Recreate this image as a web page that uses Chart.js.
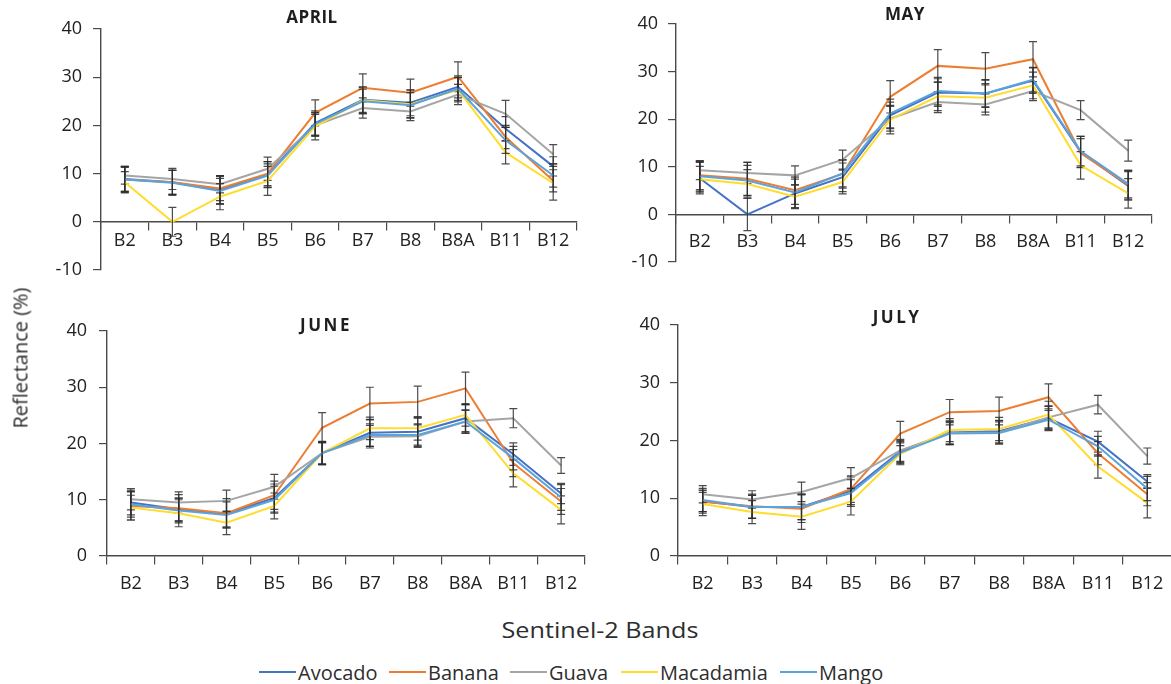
<!DOCTYPE html>
<html>
<head>
<meta charset="utf-8">
<script src="https://cdn.jsdelivr.net/npm/chart.js@4.4.1/dist/chart.umd.min.js"></script>
<style>
    html, body { margin: 0; padding: 0; background: #fff; overflow: hidden; }
    body { width: 1171px; height: 684px; position: relative; font-family: 'Open Sans', sans-serif; color: #333; }
    canvas { position: absolute; }
    .txt { position: absolute; white-space: nowrap; color: #2e2e2e; }
    .legend-line { position: absolute; height: 2px; }
</style>
</head>
<body>

<canvas id="chartApril" style="left:0;top:0" width="590" height="300"></canvas>
<canvas id="chartMay" style="left:590px;top:0" width="590" height="300"></canvas>
<canvas id="chartJune" style="left:0;top:300px" width="590" height="300"></canvas>
<canvas id="chartJuly" style="left:590px;top:300px" width="590" height="300"></canvas>

<div class="txt" id="yTitle" style="font-size:20px;left:20px;top:358px;transform:translate(-50%,-50%) rotate(-90deg);">Reflectance (%)</div>
<div class="txt" style="font-size:21px;left:600px;top:630px;transform:translate(-50%,-50%) scaleX(1.2);">Sentinel-2 Bands</div>
<div id="legend"></div>

<script>
/* === DATA === */
const bands = ['B2', 'B3', 'B4', 'B5', 'B6', 'B7', 'B8', 'B8A', 'B11', 'B12'];
const crops = ['Avocado', 'Banana', 'Guava', 'Macadamia', 'Mango'];
const cropColors = ['#4472C4', '#ED7D31', '#A5A5A5', '#FFDC2E', '#5BA3DC'];

// rows follow crops order
const aprilMeans = [
    [8.9, 8.2, 6.6, 9.8, 20.5, 25.3, 24.7, 28.0, 19.3, 11.5],
    [8.8, 8.2, 6.9, 10.0, 22.6, 27.8, 26.8, 30.1, 17.6, 8.5],
    [9.6, 8.9, 7.8, 11.0, 20.0, 23.6, 22.9, 26.4, 22.4, 14.0],
    [8.2, 0.0, 5.2, 8.5, 19.8, 25.2, 24.4, 27.4, 14.4, 8.0],
    [8.8, 8.1, 6.4, 9.6, 20.3, 25.0, 24.2, 27.6, 16.9, 9.6]
];
const aprilErrors = [
    [2.6, 2.5, 3.0, 2.7, 2.5, 2.6, 2.7, 2.3, 2.5, 2.0],
    [2.7, 2.5, 2.5, 2.5, 2.7, 2.9, 2.8, 3.1, 2.4, 2.3],
    [1.8, 2.2, 1.8, 2.4, 2.3, 2.1, 1.9, 2.1, 2.8, 2.0],
    [2.2, 3.0, 2.7, 3.0, 2.8, 2.8, 2.9, 2.5, 2.4, 3.5],
    [2.5, 2.6, 2.6, 2.4, 2.4, 2.5, 2.6, 2.4, 2.7, 2.4]
];

const mayMeans = [
    [7.6, 0.0, 4.4, 7.8, 20.8, 25.6, 25.4, 28.1, 13.1, 6.0],
    [8.2, 7.5, 5.1, 8.5, 24.7, 31.2, 30.6, 32.6, 12.9, 6.2],
    [9.3, 8.7, 8.2, 11.5, 20.1, 23.6, 23.1, 25.9, 21.9, 13.4],
    [7.4, 6.4, 3.7, 6.8, 19.9, 24.8, 24.5, 27.1, 10.3, 4.4],
    [8.0, 7.1, 4.6, 8.6, 21.2, 25.9, 25.4, 28.3, 13.3, 6.4]
];
const mayErrors = [
    [3.3, 3.4, 3.0, 3.0, 2.8, 2.9, 2.9, 2.7, 3.3, 3.0],
    [3.0, 3.5, 3.0, 3.0, 3.4, 3.4, 3.4, 3.7, 3.0, 3.0],
    [2.0, 2.2, 2.0, 2.0, 2.6, 2.2, 2.2, 2.0, 2.0, 2.2],
    [2.7, 3.0, 2.5, 2.5, 3.0, 3.0, 3.0, 2.8, 2.9, 3.1],
    [3.1, 3.2, 3.2, 2.8, 3.0, 2.9, 2.8, 2.6, 3.1, 2.9]
];

const juneMeans = [
    [9.5, 8.3, 7.5, 10.3, 18.3, 21.9, 22.1, 24.5, 18.1, 11.1],
    [8.9, 8.5, 7.6, 10.8, 22.8, 27.1, 27.4, 29.8, 16.5, 9.7],
    [10.1, 9.5, 9.8, 12.3, 18.3, 21.2, 21.3, 23.9, 24.5, 16.1],
    [8.6, 7.6, 5.9, 8.9, 18.3, 22.7, 22.7, 25.1, 14.7, 8.2],
    [9.2, 8.1, 7.3, 10.0, 18.3, 21.5, 21.5, 23.9, 17.4, 10.4]
];
const juneErrors = [
    [2.2, 2.0, 2.3, 2.5, 2.0, 2.4, 2.4, 2.4, 2.0, 1.8],
    [2.5, 2.4, 2.6, 2.5, 2.7, 2.9, 2.8, 2.9, 2.4, 2.3],
    [1.9, 1.9, 1.9, 2.2, 1.9, 2.0, 2.0, 2.0, 1.7, 1.4],
    [2.2, 2.4, 2.1, 2.3, 2.1, 2.0, 2.1, 2.0, 2.4, 2.5],
    [2.3, 2.2, 2.3, 2.4, 2.0, 2.0, 2.0, 2.1, 2.1, 2.3]
];

const julyMeans = [
    [9.5, 8.5, 8.5, 11.3, 18.1, 21.4, 21.6, 23.9, 19.8, 12.9],
    [9.4, 8.6, 8.2, 11.6, 21.2, 24.9, 25.1, 27.5, 17.8, 10.7],
    [10.7, 9.8, 11.1, 13.5, 18.3, 21.3, 21.4, 24.0, 26.2, 17.3],
    [9.0, 7.6, 6.8, 9.4, 17.7, 21.8, 22.0, 24.5, 15.5, 9.2],
    [9.7, 8.5, 8.5, 10.9, 17.9, 21.2, 21.3, 23.6, 19.0, 11.7]
];
const julyErrors = [
    [1.8, 2.0, 2.2, 2.4, 1.9, 2.0, 1.9, 2.0, 1.8, 1.2],
    [2.0, 2.1, 2.4, 2.3, 2.1, 2.2, 2.4, 2.3, 2.0, 2.0],
    [1.5, 1.5, 1.7, 1.8, 1.9, 2.0, 2.0, 2.0, 1.6, 1.4],
    [2.0, 2.0, 2.2, 2.3, 1.9, 2.0, 2.0, 2.3, 2.0, 2.6],
    [2.0, 2.0, 2.2, 2.3, 1.9, 1.9, 1.9, 1.9, 1.7, 2.1]
];

/* === PLUGINS === */
const errorBars = {
    id: 'errorBars',
    afterDatasetDraw(chart, args, opts) {
        const errs = opts.errors[args.index];
        const ys = chart.scales.y;
        const ctx = chart.ctx;
        const values = chart.data.datasets[args.index].data;
        ctx.save();
        ctx.strokeStyle = 'rgba(45,45,45,0.85)';
        ctx.lineWidth = 1.2;
        args.meta.data.forEach((pt, i) => {
            const top = ys.getPixelForValue(values[i] + errs[i]);
            const bot = ys.getPixelForValue(values[i] - errs[i]);
            ctx.beginPath();
            ctx.moveTo(pt.x, top); ctx.lineTo(pt.x, bot);
            ctx.moveTo(pt.x - 4, top); ctx.lineTo(pt.x + 4, top);
            ctx.moveTo(pt.x - 4, bot); ctx.lineTo(pt.x + 4, bot);
            ctx.stroke();
        });
        ctx.restore();
    }
};

const panelTitle = {
    id: 'panelTitle',
    afterDraw(chart, args, opts) {
        const ctx = chart.ctx;
        ctx.save();
        ctx.font = 'bold 17px "Open Sans"';
        ctx.fillStyle = '#1e1e1e';
        ctx.textAlign = 'center';
        ctx.textBaseline = 'middle';
        ctx.letterSpacing = opts.spacing || '0.5px';
        ctx.fillText(opts.text, opts.x, opts.y);
        ctx.restore();
    }
};

/* === PANELS === */
const axisColor = '#4a4a4a';
const tickFont = { family: "'Open Sans', sans-serif", size: 18 };

function makePanel(id, cfg) {
    const datasets = crops.map((name, i) => ({
        label: name,
        data: cfg.means[i],
        borderColor: cropColors[i],
        backgroundColor: cropColors[i],
        borderWidth: 2,
        pointRadius: 0,
        tension: 0,
        order: crops.length - i
    }));

    return new Chart(document.getElementById(id), {
        type: 'line',
        data: { labels: bands, datasets },
        options: {
            responsive: false,
            animation: false,
            layout: { padding: cfg.padding },
            scales: {
                x: {
                    // axis sits on the zero line; it reserves no layout space
                    position: { y: 0 },
                    offset: true,
                    grid: { offset: true, drawOnChartArea: false, drawTicks: true, tickLength: 8, color: axisColor, lineWidth: 1.2 },
                    border: { display: true, color: axisColor, width: 1.4 },
                    ticks: { autoSkip: false, maxRotation: 0, color: '#222', font: tickFont, padding: cfg.xPad }
                },
                y: {
                    min: cfg.yMin, max: 40,
                    ticks: { stepSize: 10, color: '#222', font: tickFont, padding: cfg.yPad },
                    grid: { drawOnChartArea: false, drawTicks: true, tickLength: 8, color: axisColor, lineWidth: 1.2 },
                    border: { display: true, color: axisColor, width: 1.4 },
                    afterFit: (s) => { s.width = cfg.yWidth; }
                }
            },
            plugins: {
                legend: { display: false },
                tooltip: { enabled: false },
                errorBars: { errors: cfg.errors },
                panelTitle: cfg.title
            }
        },
        plugins: [errorBars, panelTitle]
    });
}

makePanel('chartApril', {
    means: aprilMeans, errors: aprilErrors, yMin: -10,
    padding: { left: 0, top: 29, right: 13, bottom: 30 },
    yWidth: 101, xPad: 0, yPad: 11,
    title: { text: 'APRIL', x: 312, y: 18 }
});
makePanel('chartMay', {
    means: mayMeans, errors: mayErrors, yMin: -10,
    padding: { left: 0, top: 24, right: 28, bottom: 38 },
    yWidth: 86, xPad: 9, yPad: 10,
    title: { text: 'MAY', x: 315, y: 15 }
});
makePanel('chartJune', {
    means: juneMeans, errors: juneErrors, yMin: 0,
    padding: { left: 0, top: 31, right: 5, bottom: 44 },
    yWidth: 107, xPad: 9, yPad: 12,
    title: { text: 'JUNE', x: 326, y: 26, spacing: '2.5px' }
});
makePanel('chartJuly', {
    means: julyMeans, errors: julyErrors, yMin: 0,
    padding: { left: 0, top: 25, right: 8, bottom: 44 },
    yWidth: 88, xPad: 9, yPad: 10,
    title: { text: 'JULY', x: 307, y: 18, spacing: '2.5px' }
});

/* === LEGEND === */
const legendX = [259, 389, 510, 621, 780];
const legend = document.getElementById('legend');
crops.forEach((name, i) => {
    const line = document.createElement('div');
    line.className = 'legend-line';
    line.style.cssText = `left:${legendX[i]}px;top:671px;width:37px;background:${cropColors[i]}`;
    legend.appendChild(line);
    const label = document.createElement('div');
    label.className = 'txt';
    label.style.cssText = `left:${legendX[i] + 39}px;top:672px;transform:translateY(-50%);font-size:20px;`;
    label.textContent = name;
    legend.appendChild(label);
});
</script>
</body>
</html>
